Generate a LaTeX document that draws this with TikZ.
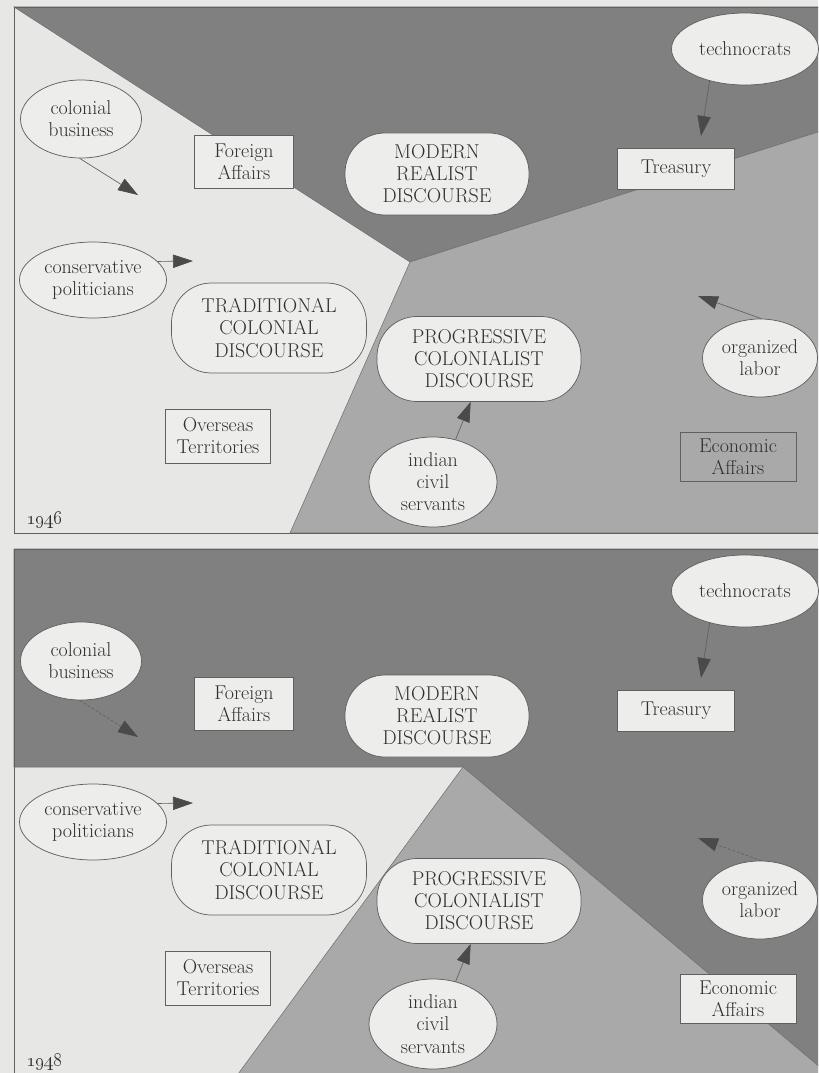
\documentclass[tikz,border=0pt]{standalone}
\usetikzlibrary{shapes.geometric,arrows.meta,calc}
\definecolor{paper}{HTML}{E7E7E5}
\definecolor{midg}{HTML}{A9A9A9}
\definecolor{darkg}{HTML}{808080}
\definecolor{nodefill}{HTML}{EDEDEB}
\definecolor{linec}{HTML}{606060}
\definecolor{textc}{HTML}{303030}
\definecolor{headc}{HTML}{4A4A4A}
\begin{document}
\begin{tikzpicture}[x=0.75pt,y=-0.75pt,
  every node/.style={font=\fontsize{15}{16.6}\selectfont, text=textc, align=center, inner sep=0pt},
  sz/.style 2 args={minimum width=#1*0.75pt, minimum height=#2*0.75pt},
  ell/.style={ellipse, draw=linec, line width=0.55pt, fill=nodefill},
  boxn/.style={rectangle, draw=linec, line width=0.55pt, fill=nodefill},
  boxclear/.style={rectangle, draw=linec, line width=0.55pt},
  disc/.style={rectangle, rounded corners=30pt, draw=linec, line width=0.55pt, fill=nodefill},
  arr/.style={draw=linec, line width=0.5pt, -{Triangle[length=15pt,width=10pt,color=headc]}},
  darr/.style={arr, dash pattern=on 2pt off 1.5pt},
  region/.style={draw=linec!90, line width=0.4pt},
  yearlbl/.style={anchor=west, font=\fontsize{15.5}{17}\selectfont}
]
\useasboundingbox (0,0) rectangle (818,1073);
\fill[paper] (0,0) rectangle (818,1073);
\begin{scope}
\clip (0,0) rectangle (818,1073);
% ---------- top panel (1946) ----------
\fill[paper] (14,7) rectangle (840,533);
\filldraw[fill=darkg, region] (14,7) -- (840,7) -- (840,125) -- (410,262) -- cycle;
\filldraw[fill=midg, region] (410,262) -- (840,125) -- (840,533) -- (290,533) -- cycle;
\draw[linec, line width=0.5pt] (840,7) -- (14,7) -- (14,533) -- (840,533);
% ---------- bottom panel (1948) ----------
\fill[paper] (14,549) rectangle (840,1100);
\filldraw[fill=darkg, region] (14,549) -- (840,549) -- (840,1084) -- (463,767) -- (14,767) -- cycle;
\filldraw[fill=midg, region] (463,767) -- (840,1084) -- (840,1100) -- (219,1100) -- cycle;
\draw[linec, line width=0.5pt] (840,549) -- (14,549) -- (14,1100);
\end{scope}

% ---------- top panel nodes ----------
\node[ell, sz={121}{78}] (cb1) at (81,119) {colonial\\business};
\node[boxn, sz={99}{53}] (fa1) at (244,162) {Foreign\\Affairs};
\node[disc, sz={184}{82}] (mr1) at (437,174) {MODERN\\REALIST\\DISCOURSE};
\node[ell, sz={147}{72}] (tc1) at (745,49) {technocrats};
\node[boxn, sz={117}{41}] (tr1) at (676,169) {Treasury};
\node[ell, sz={147}{76}] (cp1) at (93,280) {conservative\\politicians};
\node[disc, sz={195}{90}] (td1) at (269,328) {TRADITIONAL\\COLONIAL\\DISCOURSE};
\node[boxn, sz={105}{54}] (ot1) at (218,436) {Overseas\\Territories};
\node[disc, sz={204}{85}] (pc1) at (479,359) {PROGRESSIVE\\COLONIALIST\\DISCOURSE};
\node[ell, sz={128}{90}] (ic1) at (433,482) {indian\\civil\\servants};
\node[ell, sz={115}{78}] (ol1) at (760,358) {organized\\labor};
\node[boxclear, sz={116}{49}] (ea1) at (738,457) {Economic\\Affairs};
\node[yearlbl] (y1) at (26,520) {\oldstylenums{1946}};

\coordinate (cb1e) at (138,195);
\coordinate (tc1e) at (701,136);
\coordinate (cp1e) at (193,261);
\coordinate (ol1e) at (698,296);
\draw[arr] (cb1.268) -- (cb1e);
\draw[arr] (tc1.222) -- (tc1e);
\draw[arr] (cp1.16) -- (cp1e);
\draw[arr] (ol1.88) -- (ol1e);
\draw[arr] (ic1.62) -- (pc1.259);

% ---------- bottom panel nodes ----------
\node[ell, sz={121}{78}] (cb2) at (81,661) {colonial\\business};
\node[boxn, sz={99}{53}] (fa2) at (244,704) {Foreign\\Affairs};
\node[disc, sz={184}{82}] (mr2) at (437,716) {MODERN\\REALIST\\DISCOURSE};
\node[ell, sz={147}{72}] (tc2) at (745,591) {technocrats};
\node[boxn, sz={117}{41}] (tr2) at (676,711) {Treasury};
\node[ell, sz={147}{76}] (cp2) at (93,822) {conservative\\politicians};
\node[disc, sz={195}{90}] (td2) at (269,870) {TRADITIONAL\\COLONIAL\\DISCOURSE};
\node[boxn, sz={105}{54}] (ot2) at (218,978) {Overseas\\Territories};
\node[disc, sz={204}{85}] (pc2) at (479,901) {PROGRESSIVE\\COLONIALIST\\DISCOURSE};
\node[ell, sz={128}{90}] (ic2) at (433,1024) {indian\\civil\\servants};
\node[ell, sz={115}{78}] (ol2) at (760,900) {organized\\labor};
\node[boxn, sz={116}{49}] (ea2) at (738,999) {Economic\\Affairs};
\node[yearlbl] (y2) at (26,1062) {\oldstylenums{1948}};

\coordinate (cb2e) at (138,737);
\coordinate (tc2e) at (701,678);
\coordinate (cp2e) at (193,803);
\coordinate (ol2e) at (698,838);
\draw[darr] (cb2.268) -- (cb2e);
\draw[arr] (tc2.222) -- (tc2e);
\draw[arr] (cp2.16) -- (cp2e);
\draw[darr] (ol2.88) -- (ol2e);
\draw[arr] (ic2.62) -- (pc2.259);
\end{tikzpicture}
\end{document}
